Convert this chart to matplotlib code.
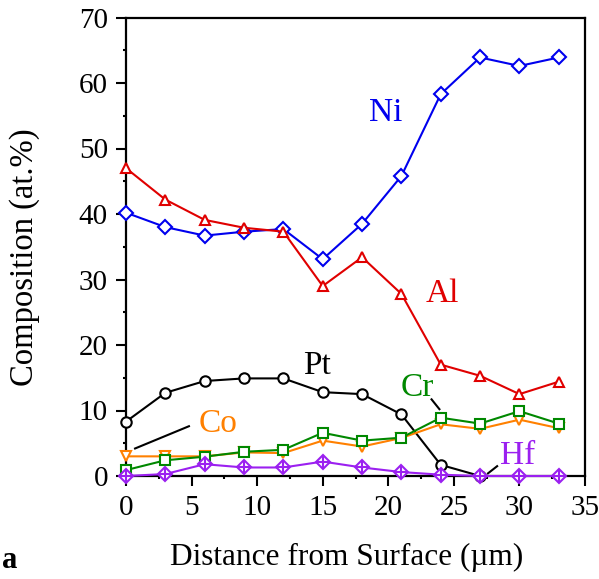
import matplotlib
matplotlib.use("Agg")
import matplotlib.pyplot as plt
from matplotlib.ticker import MultipleLocator

plt.rcParams['font.family'] = ['Liberation Serif', 'DejaVu Serif']

distance = [0, 3, 6, 9, 12, 15, 18, 21, 24, 27, 30, 33]
ni = [40.2, 38.0, 36.7, 37.3, 37.7, 33.1, 38.5, 45.8, 58.3, 63.9, 62.6, 63.9]
al = [47.0, 42.2, 39.1, 37.9, 37.3, 29.0, 33.4, 27.8, 17.0, 15.3, 12.5, 14.4]
pt_x = [0, 3, 6, 9, 12, 15, 18, 21, 24, 27]
pt = [8.3, 12.7, 14.5, 14.9, 14.9, 12.8, 12.5, 9.4, 1.7, 0.0]
co = [3.0, 3.0, 3.0, 3.6, 3.5, 5.4, 4.5, 5.8, 7.9, 7.2, 8.6, 7.3]
cr = [0.9, 2.4, 2.95, 3.7, 4.0, 6.6, 5.4, 5.85, 8.9, 8.0, 9.9, 8.0]
hf = [0.0, 0.3, 1.8, 1.3, 1.3, 2.2, 1.3, 0.6, 0.2, 0.0, 0.0, 0.0]

c_ni = '#0000ee'
c_al = '#e00000'
c_pt = '#000000'
c_co = '#ff8000'
c_cr = '#008800'
c_hf = '#9b20f0'

fig = plt.figure(figsize=(5.99, 5.79), dpi=100)
ax = fig.add_axes([126/599, 1 - 476/579, (585-126)/599, (476-17.5)/579])

lw = 1.5
mew = 1.5
ax.plot(distance, ni, '-', color=c_ni, lw=lw, marker='D', ms=6.8, mfc='white', mec=c_ni, mew=mew, clip_on=False, zorder=3)
ax.plot(distance, al, '-', color=c_al, lw=lw, marker='^', ms=7.5, mfc='white', mec=c_al, mew=mew, clip_on=False, zorder=3)
ax.plot(pt_x, pt, '-', color=c_pt, lw=lw, marker='o', ms=7.5, mfc='white', mec=c_pt, mew=mew, clip_on=False, zorder=3)
ax.plot(distance, co, '-', color=c_co, lw=lw, marker='v', ms=7.5, mfc='white', mec=c_co, mew=mew, clip_on=False, zorder=3)
ax.plot(distance, cr, '-', color=c_cr, lw=lw, marker='s', ms=6.5, mfc='white', mec=c_cr, mew=mew, clip_on=False, zorder=4)
ax.plot(distance, hf, '-', color=c_hf, lw=lw, marker='D', ms=6.8, mfc='white', mec=c_hf, mew=mew, clip_on=False, zorder=5)
ax.plot(distance, hf, ' ', marker='+', ms=9.6, mec=c_hf, mew=mew, clip_on=False, zorder=6)

# labels
fs_lab = 24
ax.text(19.8, 55.4, 'Ni', color=c_ni, fontsize=fs_lab, ha='center', va='center')
ax.text(24.1, 27.9, 'Al', color=c_al, fontsize=fs_lab, ha='center', va='center')
ax.text(14.6, 16.9, 'Pt', color=c_pt, fontsize=fs_lab, ha='center', va='center')
ax.text(7.0, 8.0, 'Co', color=c_co, fontsize=fs_lab, ha='center', va='center')
ax.text(22.2, 13.4, 'Cr', color=c_cr, fontsize=fs_lab, ha='center', va='center')
ax.text(29.9, 3.1, 'Hf', color=c_hf, fontsize=fs_lab, ha='center', va='center')

# leader lines
ax.plot([0.69, 4.8], [4.2, 7.6], color='black', lw=1.5)
ax.plot([23.3, 23.9], [11.7, 10.2], color='black', lw=1.5)
ax.plot([27.6, 28.3], [0.4, 1.5], color='black', lw=1.5)

ax.set_xlim(0, 35)
ax.set_ylim(0, 70)
ax.xaxis.set_major_locator(MultipleLocator(5))
ax.xaxis.set_minor_locator(MultipleLocator(2.5))
ax.yaxis.set_major_locator(MultipleLocator(10))
ax.yaxis.set_minor_locator(MultipleLocator(5))

for s in ax.spines.values():
    s.set_linewidth(1.6)

ax.tick_params(axis='both', which='major', direction='out', length=7, width=1.5,
               labelsize=21, top=False, right=False)
ax.tick_params(axis='x', which='major', pad=7)
ax.tick_params(axis='y', which='major', pad=6)
ax.tick_params(axis='both', which='minor', direction='out', length=2.5, width=1.5,
               top=False, right=False)

ax.set_xlabel('Distance from Surface (µm)', fontsize=22.5)
ax.set_ylabel('Composition (at.%)', fontsize=23.5)
ax.xaxis.set_label_coords(0.48, -0.178)
ax.yaxis.set_label_coords(-0.22, 0.478)
ax.xaxis.label.set_va('center')
ax.yaxis.label.set_va('center')

fig.text(2/599, 1 - 561/579, 'a', fontsize=22, fontweight='bold', ha='left', va='center')

fig.savefig('out.png', dpi=100)
